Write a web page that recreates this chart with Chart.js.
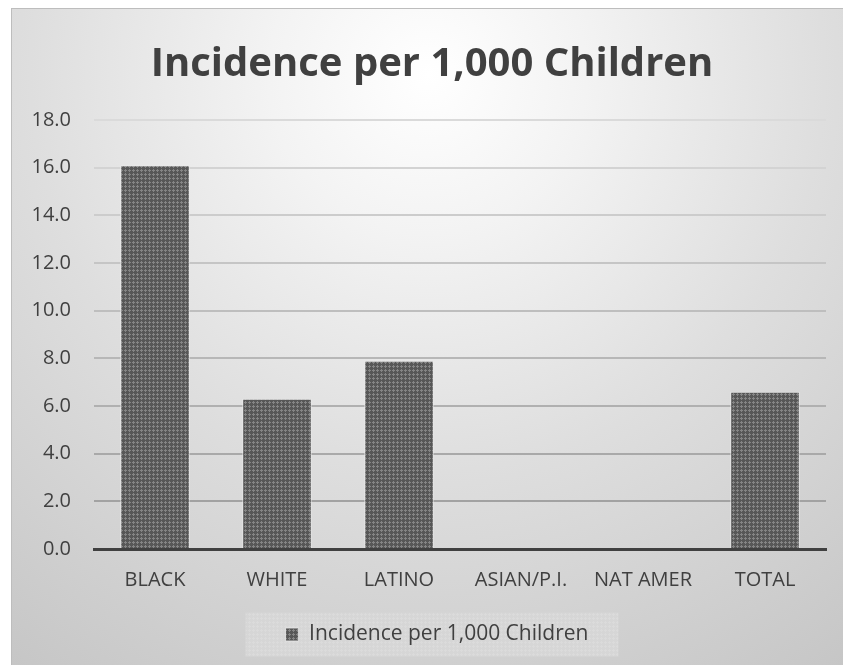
<!DOCTYPE html>
<html>
<head>
<meta charset="utf-8">
<script src="https://cdn.jsdelivr.net/npm/chart.js@4.4.1/dist/chart.umd.min.js"></script>
<style>
  html, body { margin: 0; padding: 0; background: #ffffff; }
  #wrap {
    position: absolute; left: 11px; top: 8px; width: 832px; height: 657px;
    box-sizing: border-box;
    border-left: 1px solid #bdbdbd; border-top: 1px solid #bdbdbd;
    background: radial-gradient(circle farthest-corner at 50% 10%, #ffffff 0%, #f3f3f3 22%, #dedede 55%, #c6c6c6 100%);
  }
  #chart { display: block; }
</style>
</head>
<body>
<div id="wrap"><canvas id="chart" width="831" height="656"></canvas></div>
<script>
// Chart data
const categories = ["BLACK", "WHITE", "LATINO", "ASIAN/P.I.", "NAT AMER", "TOTAL"];
const incidence = [16.1, 6.3, 7.9, 0, 0, 6.6];
const seriesName = "Incidence per 1,000 Children";
const yTicks = [0, 2, 4, 6, 8, 10, 12, 14, 16, 18];

const FONT = "'Open Sans', 'Noto Sans', sans-serif";

// dotted dark fill like the original bars
function makePattern(base, dot) {
  const c = document.createElement("canvas");
  c.width = 4;
  c.height = 4;
  const g = c.getContext("2d");
  g.fillStyle = base;
  g.fillRect(0, 0, 4, 4);
  g.fillStyle = dot;
  g.fillRect(1, 0, 1, 3);
  g.fillRect(0, 1, 3, 1);
  return g.createPattern(c, "repeat");
}

const ctx = document.getElementById("chart").getContext("2d");
const barFill = makePattern("#575757", "#858585");
const legendFill = makePattern("#d6d6d6", "#dbdbdb");

// grey box behind the legend + small horizontal nudges of title/legend
const legendBox = {
  id: "legendBox",
  afterLayout(chart) {
    chart.legend.left += 18;
    chart.legend.right += 18;
    chart.titleBlock.left += 13;
    chart.titleBlock.right += 13;
  },
  beforeDraw(chart) {
    const hb = chart.legend && chart.legend.legendHitBoxes && chart.legend.legendHitBoxes[0];
    if (!hb) return;
    const cy = hb.top + hb.height / 2;
    const g = chart.ctx;
    g.save();
    g.fillStyle = legendFill;
    g.fillRect(hb.left - 40, cy - 22, hb.width + 70, 44);
    g.restore();
  },
};

function gridColor(v) {
  const t = (v - 2) / 16;
  const c = Math.round(0xa2 + (0xda - 0xa2) * Math.max(0, Math.min(1, t)));
  return "rgb(" + c + "," + c + "," + c + ")";
}

new Chart(ctx, {
  type: "bar",
  data: {
    labels: categories,
    datasets: [
      {
        label: seriesName,
        data: incidence,
        backgroundColor: barFill,
        borderColor: "rgba(235,235,235,0.8)",
        borderWidth: 1,
        categoryPercentage: 1,
        barPercentage: 0.57,
      },
    ],
  },
  options: {
    responsive: false,
    animation: false,
    layout: { padding: { left: 0, right: 17, top: 0, bottom: 10 } },
    plugins: {
      title: {
        display: true,
        text: seriesName,
        color: "#404040",
        font: { family: FONT, size: 40, weight: "bold" },
        padding: { top: 32, bottom: 31 },
      },
      legend: {
        position: "bottom",
        labels: {
          color: "#404040",
          font: { family: FONT, size: 21 },
          boxWidth: 13,
          boxHeight: 13,
          padding: 12,
        },
      },
      tooltip: { enabled: false },
    },
    scales: {
      x: {
        grid: { display: false },
        border: { display: true, color: "#404040", width: 3 },
        afterFit(scale) {
          scale.height = scale.height + 9;
        },
        ticks: {
          color: "#404040",
          font: { family: FONT, size: 20 },
          padding: 11,
          maxRotation: 0,
        },
      },
      y: {
        min: 0,
        max: 18,
        afterFit(scale) {
          scale.width = 82;
        },
        afterBuildTicks(scale) {
          scale.ticks = yTicks.map((v) => ({ value: v }));
        },
        grid: {
          color: (c) => gridColor(c.tick ? c.tick.value : 0),
          lineWidth: 2,
          drawTicks: false,
        },
        border: { display: false },
        ticks: {
          color: "#404040",
          font: { family: FONT, size: 20 },
          padding: 23,
          callback: (v) => Number(v).toFixed(1),
        },
      },
    },
  },
  plugins: [legendBox],
});
</script>
</body>
</html>
